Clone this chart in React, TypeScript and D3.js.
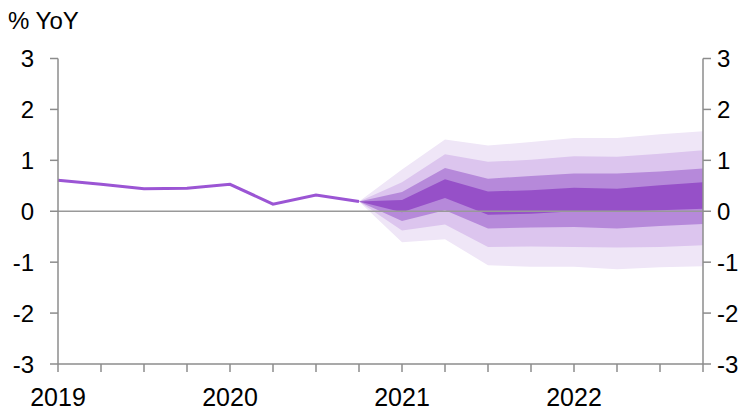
import * as d3 from 'd3';

// quarterly positions: 0 = 2019Q1 ... 15 = 2022Q4
const yearLabels = ['2019', '2020', '2021', '2022'];
const yTicks = [-3, -2, -1, 0, 1, 2, 3];

// history line (2019Q1 .. 2020Q4)
const history = [0.61, 0.53, 0.44, 0.45, 0.53, 0.14, 0.32, 0.19];

// fan bands from 2020Q4 (pos 7) to 2022Q4 (pos 15)
const fanStart = 7;
const outerHi = [0.19, 0.82, 1.41, 1.29, 1.36, 1.44, 1.44, 1.51, 1.57];
const lightHi = [0.19, 0.57, 1.12, 0.97, 1.01, 1.08, 1.07, 1.13, 1.2];
const midHi = [0.19, 0.38, 0.85, 0.64, 0.69, 0.74, 0.74, 0.78, 0.84];
const darkHi = [0.19, 0.22, 0.63, 0.39, 0.41, 0.46, 0.44, 0.51, 0.57];
const darkLo = [0.19, -0.02, 0.26, -0.07, -0.05, 0.0, -0.01, 0.02, 0.05];
const midLo = [0.19, -0.19, 0.02, -0.34, -0.32, -0.31, -0.34, -0.29, -0.25];
const lightLo = [0.19, -0.38, -0.26, -0.7, -0.69, -0.7, -0.71, -0.7, -0.67];
const outerLo = [0.19, -0.61, -0.55, -1.06, -1.09, -1.09, -1.14, -1.1, -1.08];

const W = 755;
const H = 414;
const margin = { top: 58.5, right: 52, bottom: 50, left: 58 };
const font = '"Liberation Sans", Arial, sans-serif';

const App = () => {
  const x = d3.scaleLinear().domain([0, 15]).range([margin.left, W - margin.right]);
  const y = d3.scaleLinear().domain([-3, 3]).range([H - margin.bottom, margin.top]);

  const line = d3.line<number>()
    .x((_, i) => x(i))
    .y((d) => y(d));

  const band = (hi: number[], lo: number[]) =>
    d3.area<number>()
      .x((_, i) => x(i + fanStart))
      .y0((_, i) => y(lo[i]))
      .y1((d) => y(d))(hi) || '';

  const bands = [
    { hi: outerHi, lo: outerLo, fill: '#efe6f7' },
    { hi: lightHi, lo: lightLo, fill: '#dcc5ee' },
    { hi: midHi, lo: midLo, fill: '#b689da' },
    { hi: darkHi, lo: darkLo, fill: '#9650c8' },
  ];

  const axisColor = '#8c8c8c';
  const x0 = x(0);
  const x1 = x(15);
  const quarters = d3.range(0, 16);

  return (
    <svg width={W} height={H} style={{ position: 'absolute', left: 0, top: 0 }} fontFamily={font}>
      <text x={8} y={29} fontSize={24} fill="#000">% YoY</text>

      {bands.map((b, i) => (
        <path key={i} d={band(b.hi, b.lo)} fill={b.fill} />
      ))}

      <line x1={x0} x2={x1} y1={y(0)} y2={y(0)} stroke="#999" strokeWidth={1.5} />

      <path d={line(history) || ''} fill="none" stroke="#9b55d4" strokeWidth={3} />

      {/* axes */}
      <line x1={x0} x2={x0} y1={y(3)} y2={y(-3)} stroke={axisColor} strokeWidth={1.5} />
      <line x1={x1} x2={x1} y1={y(3)} y2={y(-3)} stroke={axisColor} strokeWidth={1.5} />
      <line x1={x0} x2={x1} y1={y(-3)} y2={y(-3)} stroke={axisColor} strokeWidth={1.5} />

      {yTicks.map((t) => (
        <g key={t}>
          <line x1={x0 - 8} x2={x0} y1={y(t)} y2={y(t)} stroke={axisColor} strokeWidth={1.5} />
          <line x1={x1} x2={x1 + 8} y1={y(t)} y2={y(t)} stroke={axisColor} strokeWidth={1.5} />
          <text x={x0 - 24} y={y(t) + 8.5} fontSize={24} textAnchor="end" fill="#000">{t}</text>
          <text x={x1 + 14} y={y(t) + 8.5} fontSize={24} fill="#000">{t}</text>
        </g>
      ))}

      {quarters.map((q) => (
        <line key={q} x1={x(q)} x2={x(q)} y1={y(-3)} y2={y(-3) + 8} stroke={axisColor} strokeWidth={1.5} />
      ))}

      {yearLabels.map((l, i) => (
        <text key={l} x={x(i * 4)} y={406} fontSize={25} textAnchor="middle" fill="#000">{l}</text>
      ))}
    </svg>
  );
};

export default App;
